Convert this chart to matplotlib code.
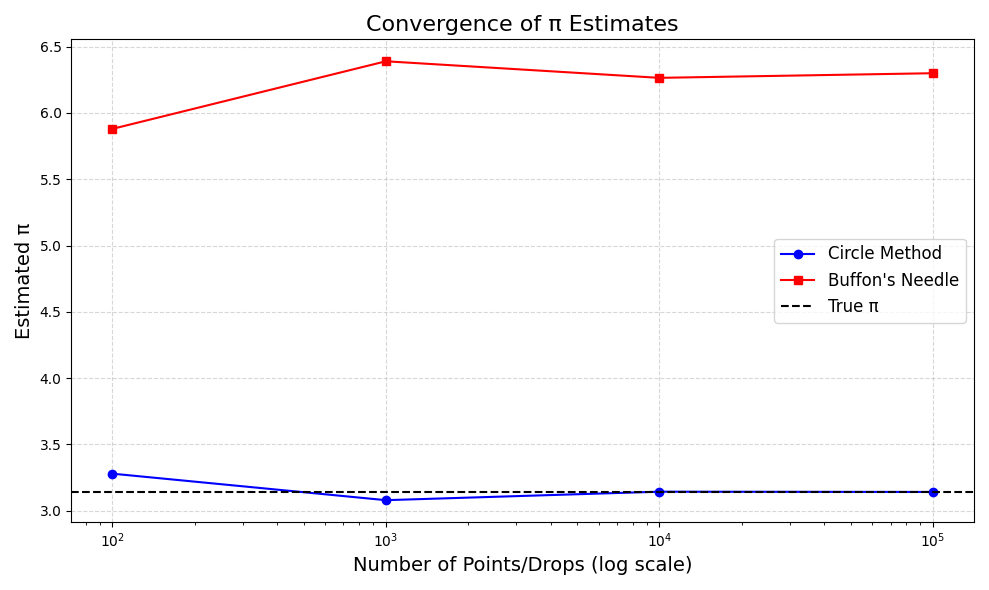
import numpy as np
import matplotlib.pyplot as plt

n_values = [100, 1000, 10000, 100000]
circle_estimates = [3.28, 3.08, 3.144, 3.142]
buffon_estimates = [5.88, 6.39, 6.265, 6.30]

plt.figure(figsize=(9.89, 5.9), dpi=100)
plt.plot(n_values, circle_estimates, marker='o', color='blue', label='Circle Method')
plt.plot(n_values, buffon_estimates, marker='s', color='red', label="Buffon's Needle")
plt.axhline(np.pi, color='black', linestyle='--', label='True π')
plt.xscale('log')
plt.title('Convergence of π Estimates', fontsize=16)
plt.xlabel('Number of Points/Drops (log scale)', fontsize=14)
plt.ylabel('Estimated π', fontsize=14)
plt.legend(fontsize=12)
plt.grid(True, linestyle='--', alpha=0.5)
plt.tight_layout()
plt.savefig('out.png')
